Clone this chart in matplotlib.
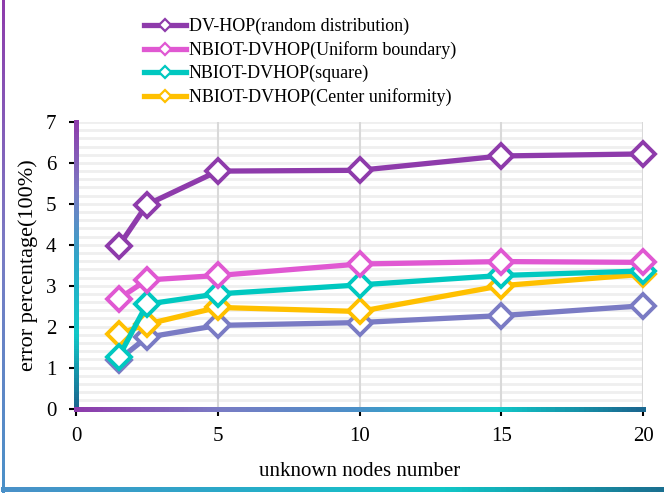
import numpy as np
import matplotlib
matplotlib.use("Agg")
from matplotlib import pyplot as plt
from matplotlib.collections import LineCollection
from matplotlib.lines import Line2D

plt.rcParams["font.family"] = ["Liberation Serif", "DejaVu Serif"]

nodes = [1.5, 2.5, 5, 10, 15, 20]
dv_hop = [3.96, 4.98, 5.80, 5.82, 6.17, 6.22]
uniform_boundary = [2.68, 3.14, 3.25, 3.53, 3.59, 3.57]
square = [1.25, 2.55, 2.80, 3.02, 3.25, 3.36]
center_uniformity = [1.82, 2.06, 2.47, 2.37, 3.00, 3.28]
extra_series = [1.19, 1.74, 2.03, 2.10, 2.27, 2.51]

labels = ["DV-HOP(random distribution)", "NBIOT-DVHOP(Uniform boundary)",
          "NBIOT-DVHOP(square)", "NBIOT-DVHOP(Center uniformity)"]
colors = ["#8e3bab", "#e058d2", "#00c8c0", "#ffc000"]
extra_color = "#7a7bc4"


def gradient_line(xs, ys, cols, transform, lw):
    pts = np.column_stack([xs, ys])
    segs = np.stack([pts[:-1], pts[1:]], axis=1)
    cmap = matplotlib.colors.LinearSegmentedColormap.from_list("g", cols)
    lc = LineCollection(segs, colors=cmap(np.linspace(0, 1, len(segs))),
                        linewidths=lw, transform=transform, clip_on=False,
                        antialiaseds=False)
    lc.set_capstyle("projecting")
    return lc


fig = plt.figure(figsize=(6.64, 4.93), dpi=100)
ax = fig.add_axes([76 / 664, 1 - 408.5 / 493, 567 / 664, 286.5 / 493])

ax.set_xlim(0, 20)
ax.set_ylim(0, 7)
ax.set_xticks([0, 5, 10, 15, 20])
ax.set_yticks(np.arange(0, 8, 1))
ax.tick_params(axis="both", which="major", labelsize=15, length=5, width=1.5)
ax.tick_params(axis="y", pad=9)
ax.tick_params(axis="x", pad=8)
for yv in np.arange(0.2, 7.01, 0.2):
    ax.axhline(yv, color="#efefef", linewidth=2, zorder=0.5)
for xv in [5, 10, 15, 20]:
    ax.axvline(xv, color="#d9d9d9", linewidth=1.5, zorder=1)
for s in ax.spines.values():
    s.set_visible(False)

tick_cols = ["#8e3bab", "#8e3bab", "#20c0c8", "#8070c0", "#2aa8c8", "#20c0c8", "#20c0c8", "#2070a0"]
for t, c in zip(ax.yaxis.get_major_ticks(), tick_cols):
    t.tick1line.set_color(c)
for t, c in zip(ax.xaxis.get_major_ticks(), ["#8e3bab", "#7a7bc4", "#4a90c8", "#10c8c8", "#1a7090"]):
    t.tick1line.set_color(c)

t = np.linspace(0, 1, 120)
ax.add_collection(gradient_line(np.zeros_like(t), 1 - t,
                                ["#8e3bab", "#7a7bc4", "#2aa8c8", "#10c8c8", "#1a6890"],
                                ax.transAxes, 2.5))
ax.add_collection(gradient_line(t, np.zeros_like(t),
                                ["#8e3bab", "#7a7bc4", "#4a90c8", "#10c8c8", "#1a6890"],
                                ax.transAxes, 2.5))

all_series = [(extra_series, extra_color), (center_uniformity, colors[3]),
              (square, colors[2]), (uniform_boundary, colors[1]), (dv_hop, colors[0])]
for i, (vals, col) in enumerate(all_series):
    ax.plot(nodes, vals, color=col, linewidth=3.8, marker="D", markersize=12,
            markerfacecolor="white", markeredgecolor=col, markeredgewidth=2.8,
            clip_on=False, zorder=3 + i)

ax.set_xlabel("unknown nodes number", fontsize=15, labelpad=12)
ax.set_ylabel("error percentage(100%)", fontsize=16, labelpad=6)

handles = [Line2D([], [], color=c, linewidth=3.8, marker="D", markersize=6,
                  markerfacecolor="white", markeredgecolor=c, markeredgewidth=1.6)
           for c in colors]
fig.legend(handles, labels, loc="upper left", bbox_to_anchor=(144 / 664, 1 - 18 / 493),
           frameon=False, fontsize=13, handlelength=2.3, handletextpad=0.17,
           labelspacing=0.33, borderpad=0, borderaxespad=0)

# figure border lines
tt = np.linspace(0, 1, 120)
fig.add_artist(gradient_line(np.full_like(tt, 3 / 664), 1 - tt,
                             ["#8e3bab", "#7a7bc4", "#4a90c8"], fig.transFigure, 2))
fig.add_artist(gradient_line(3 / 664 + tt * (1 - 3 / 664), np.full_like(tt, 4 / 493),
                             ["#4a90c8", "#2aa8c8", "#10c8c8", "#1a7090"], fig.transFigure, 2.5))

fig.savefig("out.png", dpi=100)
plt.close(fig)
